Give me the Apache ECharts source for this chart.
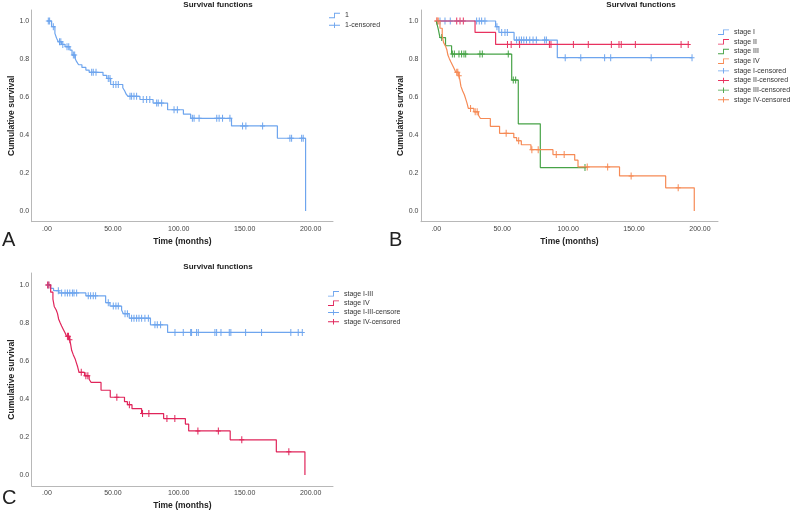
<!DOCTYPE html>
<html><head><meta charset="utf-8">
<script src="https://cdn.jsdelivr.net/npm/echarts@6/dist/echarts.min.js"></script>
<style>html,body{margin:0;padding:0;background:#fff}#c{width:790px;height:514px}</style>
</head><body><div id="c"></div>
<script>
// ---------- data ----------
const xTicks = [0, 50, 100, 150, 200];
const yTicks = [0, 0.2, 0.4, 0.6, 0.8, 1.0];

// Panel A: all patients  [time, survival after event]
const allEvents = [[0,1],[3.5,0.970],[6.0,0.935],[7.3,0.909],[8.6,0.891],[11.1,0.877],[13.7,0.865],[17.4,0.847],[19.0,0.821],[21.5,0.800],[22.5,0.786],[24.0,0.770],[26.5,0.756],[29.5,0.742],[32.0,0.730],[42.5,0.714],[45.3,0.698],[48.3,0.666],[57.5,0.649],[59.0,0.632],[60.0,0.616],[61.5,0.604],[70.5,0.587],[80.5,0.568],[91.5,0.533],[103.5,0.510],[109.0,0.488],[140.0,0.448],[174.8,0.383],[196.2,0]];
const allEnd = 196.2;
const allCensor = [1.0,2.0,4.8,9.5,10.5,12.0,15.2,16.5,20.0,21.0,33.9,35.1,37.2,46.5,47.8,50.3,52.3,54.1,63.0,64.2,66.0,68.0,73.0,75.6,78.0,83.2,84.4,87.0,96.4,98.9,110.3,111.6,115.4,128.8,130.6,133.2,138.8,148.4,150.9,163.6,184.3,185.6,193.2,194.4];

// Panel B: by stage
const s1Events = [[0,1],[45.0,0.970],[47.5,0.940],[59.0,0.900],[91.8,0.807]];
const s1End = 194.0;
const s1Censor = [2.8,6.6,10.6,30.6,32.6,34.4,36.9,46.0,49.6,52.1,53.9,60.9,62.9,64.6,66.4,68.4,70.9,73.4,75.9,82.2,83.5,97.8,109.6,127.7,132.3,163.0,194.0];

const s2Events = [[0,1],[29.4,0.940],[45.0,0.877]];
const s2End = 191.5;
const s2Censor = [0.5,15.5,18.0,20.5,54.0,56.8,63.2,85.8,87.0,104.0,115.3,132.8,138.6,140.3,151.0,185.7,191.1];

const s3Events = [[0,1],[1.5,0.957],[2.8,0.913],[7.0,0.870],[11.6,0.826],[57.2,0.689],[62.2,0.459],[78.9,0.229]];
const s3End = 113.5;
const s3Censor = [4.1,12.2,13.7,17.2,19.2,21.0,22.3,33.1,34.9,54.6,58.4,60.2,112.8];

const s4Events = [[0,1],[2.8,0.962],[4.5,0.925],[5.5,0.887],[7.0,0.868],[8.0,0.849],[8.8,0.821],[9.9,0.802],[11.1,0.784],[12.4,0.766],[13.7,0.748],[14.8,0.730],[17.0,0.712],[17.8,0.694],[18.7,0.656],[20.0,0.632],[21.3,0.612],[22.3,0.590],[23.3,0.568],[24.3,0.540],[28.5,0.522],[32.0,0.504],[33.5,0.487],[41.0,0.446],[48.0,0.409],[58.8,0.386],[61.0,0.370],[64.5,0.349],[71.8,0.323],[88.5,0.297],[105.0,0.268],[107.5,0.232],[139.0,0.185],[174.0,0.122],[195.7,0]];
const s4End = 195.7;
const s4Censor = [0.5,1.5,15.5,16.3,17.4,26.0,29.5,31.0,53.0,62.5,72.5,77.3,91.0,97.0,114.5,130.0,147.8,183.5];

// Panel C: stage I-III combined (stage IV as above)
const s13Events = [[0,1],[2.8,0.982],[5.0,0.970],[9.0,0.958],[29.5,0.943],[44.5,0.907],[47.8,0.889],[56.6,0.868],[57.9,0.849],[62.4,0.825],[78.5,0.790],[91.5,0.750]];
const s13End = 193.7;
const s13Censor = [1.0,8.6,11.1,13.7,15.5,17.3,19.3,20.5,22.5,31.3,33.1,35.1,36.9,46.5,50.3,52.3,54.1,59.2,61.0,64.2,66.0,68.0,69.8,71.8,74.3,76.9,81.9,83.7,86.2,97.1,103.4,109.0,109.7,113.5,114.8,127.4,128.7,132.0,138.3,139.5,150.7,162.8,185.0,190.6,193.7];

// ---------- helpers ----------
function stepAt(ev, t){ let v = ev[0][1]; for (const p of ev){ if (p[0] <= t) v = p[1]; else break; } return v; }
function lineData(ev, end){ const d = ev.map(p => [p[0], p[1]]); const last = d[d.length-1]; if (end > last[0]) d.push([end, last[1]]); return d; }
function censorData(ev, times){ return times.map(t => [t, stepAt(ev, t)]); }

const FONT = '"Liberation Sans", Arial, sans-serif';
const PLUS = 'path://M2,0H3V7H2ZM0,3H5V4H0Z';
const STEP_ICON = 'path://M0,5H5.5V0H12V1H6.5V6H0Z';
const CENS_ICON = 'path://M0,2.5H12V3.5H0ZM5.5,0H6.5V6H5.5Z';

const C_BLUE = '#6ea5ee', C_RED = '#e8325f', C_GREEN = '#47a347', C_ORANGE = '#f68a55', C_CRIMSON = '#e0245a';

function xAxisCfg(gi, min, max){
  return { gridIndex: gi, type: 'value', min: min, max: max,
    name: 'Time (months)', nameLocation: 'middle', nameGap: 15, nameMoveOverlap: false,
    nameTextStyle: { fontFamily: FONT, fontSize: 8.5, fontWeight: 'bold', color: '#222' },
    axisLine: { show: true, onZero: false, lineStyle: { color: '#b8b8b8', width: 1 } },
    axisTick: { show: false }, splitLine: { show: false },
    axisLabel: { customValues: xTicks, margin: 4, fontFamily: FONT, fontSize: 7, color: '#444',
      formatter: v => v === 0 ? '.00' : v.toFixed(2) } };
}
function yAxisCfg(gi, min, max){
  return { gridIndex: gi, type: 'value', min: min, max: max,
    name: 'Cumulative survival', nameLocation: 'middle', nameGap: 16, nameRotate: 90, nameMoveOverlap: false,
    nameTextStyle: { fontFamily: FONT, fontSize: 8.5, fontWeight: 'bold', color: '#222' },
    axisLine: { show: true, onZero: false, lineStyle: { color: '#b8b8b8', width: 1 } },
    axisTick: { show: false }, splitLine: { show: false },
    axisLabel: { customValues: yTicks, margin: 2.5, fontFamily: FONT, fontSize: 7, color: '#444',
      formatter: v => v.toFixed(1) } };
}
function lineSeries(name, gi, ev, end, color){
  return { type: 'line', name: name, xAxisIndex: gi, yAxisIndex: gi, step: 'end', symbol: 'none',
    data: lineData(ev, end), lineStyle: { color: color, width: 1.2 }, itemStyle: { color: color }, silent: true };
}
function censorSeries(name, gi, ev, times, color){
  return { type: 'scatter', name: name, xAxisIndex: gi, yAxisIndex: gi, symbol: PLUS, symbolSize: [5, 7],
    data: censorData(ev, times), itemStyle: { color: color, opacity: 1 }, silent: true };
}
function legendCfg(left, top, items, gap, extra){
  return Object.assign({ left: left, top: top, orient: 'vertical', itemWidth: 11, itemHeight: 6, itemGap: gap,
    padding: 0, selectedMode: false,
    textStyle: { fontFamily: FONT, fontSize: 7, color: '#333' },
    data: items.map(it => ({ name: it[0], icon: it[2] ? CENS_ICON : STEP_ICON, itemStyle: { color: it[1], borderWidth: 0 } })) }, extra || {});
}

const option = {
  animation: false,
  backgroundColor: '#fff',
  title: [
    { text: 'Survival functions', left: 218, top: 1, textAlign: 'center', padding: 0,
      textStyle: { fontFamily: FONT, fontSize: 8, fontWeight: 'bold', color: '#222' } },
    { text: 'Survival functions', left: 641, top: 1, textAlign: 'center', padding: 0,
      textStyle: { fontFamily: FONT, fontSize: 8, fontWeight: 'bold', color: '#222' } },
    { text: 'Survival functions', left: 218, top: 263, textAlign: 'center', padding: 0,
      textStyle: { fontFamily: FONT, fontSize: 8, fontWeight: 'bold', color: '#222' } }
  ],
  grid: [
    { left: 31.7, top: 10, width: 301.3, height: 211.7 },
    { left: 421, top: 10, width: 297, height: 211.7 },
    { left: 31.7, top: 273, width: 301.3, height: 213 }
  ],
  xAxis: [ xAxisCfg(0, -11.6, 217), xAxisCfg(1, -11.6, 213.7), xAxisCfg(2, -11.6, 217) ],
  yAxis: [ yAxisCfg(0, -0.056, 1.058), yAxisCfg(1, -0.056, 1.058), yAxisCfg(2, -0.058, 1.063) ],
  legend: [
    legendCfg(329, 12, [['1', C_BLUE], ['1-censored', C_BLUE, true]], 2.7),
    legendCfg(718, 28.7, [['stage I', C_BLUE], ['stage II', C_RED], ['stage III', C_GREEN], ['stage IV', C_ORANGE],
      ['stage I-censored', C_BLUE, true], ['stage II-censored', C_RED, true], ['stage III-censored', C_GREEN, true], ['stage IV-censored', C_ORANGE, true]], 2.66),
    legendCfg(328, 290.3, [['C|stage I-III', C_BLUE], ['C|stage IV', C_CRIMSON], ['C|stage I-III-censored', C_BLUE, true], ['C|stage IV-censored', C_CRIMSON, true]], 2.33,
      { formatter: n => n.replace('C|', ''), textStyle: { fontFamily: FONT, fontSize: 7, color: '#333', width: 60, overflow: 'truncate', ellipsis: '' } })
  ],
  graphic: [
    { type: 'text', x: 2, y: 230, style: { text: 'A', font: '20px ' + FONT, fill: '#222' } },
    { type: 'text', x: 389, y: 230, style: { text: 'B', font: '20px ' + FONT, fill: '#222' } },
    { type: 'text', x: 2, y: 488, style: { text: 'C', font: '20px ' + FONT, fill: '#222' } }
  ],
  series: [
    lineSeries('1', 0, allEvents, allEnd, C_BLUE),
    censorSeries('1-censored', 0, allEvents, allCensor, C_BLUE),

    lineSeries('stage I', 1, s1Events, s1End, C_BLUE),
    lineSeries('stage II', 1, s2Events, s2End, C_RED),
    lineSeries('stage III', 1, s3Events, s3End, C_GREEN),
    lineSeries('stage IV', 1, s4Events, s4End, C_ORANGE),
    censorSeries('stage I-censored', 1, s1Events, s1Censor, C_BLUE),
    censorSeries('stage II-censored', 1, s2Events, s2Censor, C_RED),
    censorSeries('stage III-censored', 1, s3Events, s3Censor, C_GREEN),
    censorSeries('stage IV-censored', 1, s4Events, s4Censor, C_ORANGE),

    lineSeries('C|stage I-III', 2, s13Events, s13End, C_BLUE),
    lineSeries('C|stage IV', 2, s4Events, s4End, C_CRIMSON),
    censorSeries('C|stage I-III-censored', 2, s13Events, s13Censor, C_BLUE),
    censorSeries('C|stage IV-censored', 2, s4Events, s4Censor, C_CRIMSON)
  ]
};
const chart = echarts.init(document.getElementById('c'), null, { renderer: 'canvas' });
chart.setOption(option);
</script></body></html>
